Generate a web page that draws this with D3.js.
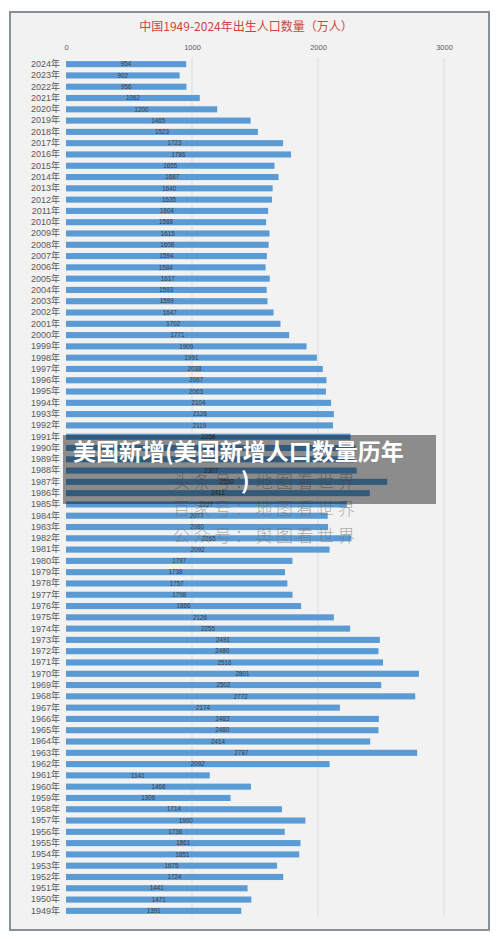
<!DOCTYPE html>
<html><head><meta charset="utf-8">
<script src="https://cdn.jsdelivr.net/npm/d3@7"></script>
<style>
html,body{margin:0;padding:0;background:#fff;}
svg{display:block;}
</style></head>
<body>
<script>
const title = "中国1949-2024年出生人口数量（万人）";
const years = [2024,2023,2022,2021,2020,2019,2018,2017,2016,2015,2014,2013,2012,2011,2010,2009,2008,2007,2006,2005,2004,2003,2002,2001,2000,1999,1998,1997,1996,1995,1994,1993,1992,1991,1990,1989,1988,1987,1986,1985,1984,1983,1982,1981,1980,1979,1978,1977,1976,1975,1974,1973,1972,1971,1970,1969,1968,1967,1966,1965,1964,1963,1962,1961,1960,1959,1958,1957,1956,1955,1954,1953,1952,1951,1950,1949];
const births = [954,902,956,1062,1200,1465,1523,1723,1786,1655,1687,1640,1635,1604,1588,1615,1608,1594,1584,1617,1593,1599,1647,1702,1771,1909,1991,2038,2067,2063,2104,2126,2119,2258,2300,2290,2307,2550,2411,2227,2077,2080,2265,2092,1797,1738,1757,1798,1866,2126,2255,2491,2480,2516,2801,2502,2772,2174,2483,2480,2414,2787,2092,1141,1468,1306,1714,1900,1736,1861,1851,1675,1724,1441,1471,1391];
const xTicks = [0,1000,2000,3000];
const bannerLines = ["美国新增(美国新增人口数量历年", ")"];
const watermarks = ["头条号：地图看世界", "百家号：地图看世界", "公众号：舆图看世界"];

const W = 500, H = 939;
const svg = d3.select("body").append("svg").attr("width", W).attr("height", H);
const font = "'Liberation Sans','Noto Sans CJK SC',sans-serif";

// frame
svg.append("rect").attr("x", 10).attr("y", 12).attr("width", 479).attr("height", 918)
  .attr("fill", "#f2f2f2").attr("stroke", "#8a8f94").attr("stroke-width", 2);

svg.append("text").attr("x", 246).attr("y", 31).attr("text-anchor", "middle")
  .attr("font-family", "'Noto Sans CJK SC',sans-serif").attr("font-size", 12)
  .attr("fill", "#d0443e").text(title);

const x = d3.scaleLinear().domain([0, 3000]).range([66, 444]);
const y = d3.scaleBand().domain(years).range([58.5, 916.5]).paddingInner(0.46).paddingOuter(0.23);

// gridlines
svg.append("g").selectAll("line").data(xTicks.slice(1)).join("line")
  .attr("x1", d => x(d)).attr("x2", d => x(d)).attr("y1", 58).attr("y2", 916)
  .attr("stroke", "#dcdcdc").attr("stroke-width", 1);

// top axis labels
const ax = svg.append("g").attr("transform", "translate(0,50)")
  .call(d3.axisTop(x).tickValues(xTicks).tickSize(0).tickPadding(0).tickFormat(d3.format("d")));
ax.select(".domain").remove();
ax.selectAll("text").attr("font-family", font).attr("font-size", 7.5).attr("fill", "#595959");

// y axis labels
const ay = svg.append("g").attr("transform", "translate(60,0)")
  .call(d3.axisLeft(y).tickSize(0).tickPadding(0).tickFormat(d => d + "年"));
ay.select(".domain").remove();
ay.selectAll("text").attr("font-family", font).attr("font-size", 9).attr("fill", "#595959");

const data = years.map((yr, i) => ({yr, v: births[i]}));
svg.append("g").selectAll("rect").data(data).join("rect")
  .attr("x", x(0)).attr("y", d => y(d.yr)).attr("width", d => x(d.v) - x(0))
  .attr("height", y.bandwidth()).attr("fill", "#5b9bd5");

svg.append("g").selectAll("text").data(data).join("text")
  .attr("x", d => (x(0) + x(d.v)) / 2).attr("y", d => y(d.yr) + y.bandwidth() / 2 + 2.2)
  .attr("text-anchor", "middle").attr("font-family", font).attr("font-size", 6.3)
  .attr("fill", "#404040").text(d => d.v);

// watermark
svg.append("g").selectAll("text").data(watermarks).join("text")
  .attr("x", 173).attr("y", (d, i) => 488 + i * 27)
  .attr("font-family", "'Noto Sans CJK SC',sans-serif").attr("font-weight", 300)
  .attr("font-size", 17).attr("letter-spacing", 3.6)
  .attr("fill", "rgba(110,110,110,0.55)").text(d => d);

// banner
svg.append("rect").attr("x", 63).attr("y", 435).attr("width", 373).attr("height", 69)
  .attr("fill", "rgba(0,0,0,0.42)");
svg.append("text").attr("x", 73).attr("y", 460)
  .attr("font-family", "'Noto Sans CJK SC',sans-serif").attr("font-weight", 700)
  .attr("font-size", 23).attr("fill", "#fff").text(bannerLines[0]);
svg.append("text").attr("x", 241).attr("y", 489)
  .attr("font-family", "'Noto Sans CJK SC',sans-serif").attr("font-weight", 700)
  .attr("font-size", 23).attr("fill", "#fff").text(bannerLines[1]);
</script>
</body></html>
